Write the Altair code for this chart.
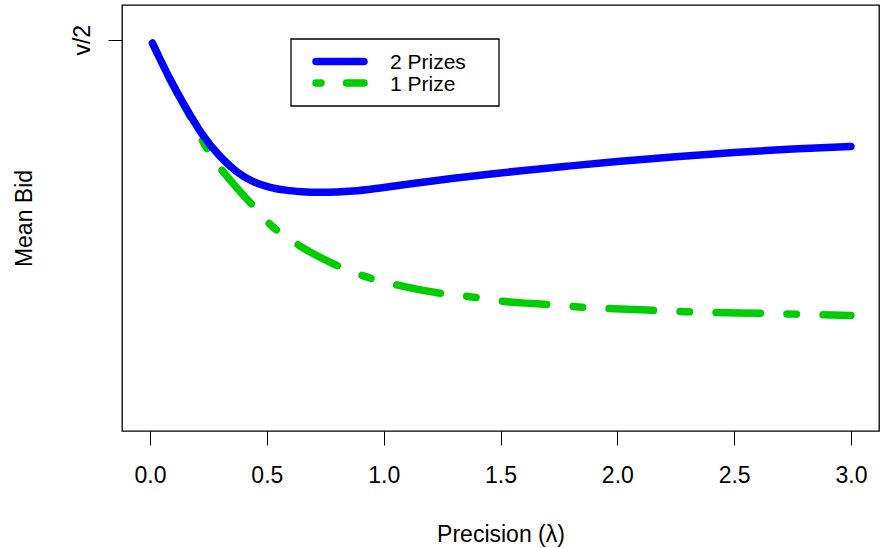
import altair as alt
import pandas as pd

# Mean bid against precision (lambda), in units of the prize value v (v/2 = 0.5)
lam_two = [0.01, 0.08, 0.15, 0.22, 0.30, 0.37, 0.44, 0.51, 0.58, 0.65, 0.72,
           0.80, 0.87, 1.00, 1.15, 1.30, 1.45, 1.60, 1.80, 2.00, 2.25, 2.50,
           2.75, 3.00]
bid_two = [0.4958, 0.4531, 0.4148, 0.3808, 0.3509, 0.3317, 0.3190, 0.3118,
           0.3078, 0.3058, 0.3050, 0.3054, 0.3066, 0.3112, 0.3172, 0.3229,
           0.3282, 0.3330, 0.3388, 0.3443, 0.3505, 0.3559, 0.3603, 0.3637]

lam_one = [0.01, 0.08, 0.167, 0.238, 0.366, 0.43, 0.523, 0.622, 0.793, 0.92,
           1.05, 1.235, 1.363, 1.49, 1.705, 1.833, 2.16, 2.29, 2.63, 3.00]
bid_one = [0.4958, 0.4521, 0.4042, 0.3637, 0.3126, 0.2914, 0.2615, 0.2402,
           0.2125, 0.1976, 0.1870, 0.1764, 0.1720, 0.1665, 0.1614, 0.1585,
           0.1541, 0.1525, 0.1503, 0.1477]

x_ticks = [0.0, 0.5, 1.0, 1.5, 2.0, 2.5, 3.0]
legend_labels = ["2 Prizes", "1 Prize"]

BLUE = "#0000FF"
GREEN = "#00CD00"
FONT = "Liberation Sans"
FS = 23
LEG_FS = 21
LW = 7.5
W, H = 757, 426

two = pd.DataFrame({"lam": lam_two, "bid": bid_two})
one = pd.DataFrame({"lam": lam_one, "bid": bid_one})

x_scale = alt.Scale(domain=[-0.12, 3.12], nice=False, zero=False)
y_scale = alt.Scale(domain=[0, 0.5444], nice=False, zero=False)

x_axis = alt.Axis(
    values=x_ticks, format=".1f", title="Precision (λ)", grid=False,
    domain=False, tickSize=14, tickColor="black", tickWidth=1,
    labelFont=FONT, labelFontSize=FS, labelColor="black",
    labelBaseline="alphabetic", labelPadding=37.7, labelFlush=False,
    titleFont=FONT, titleFontSize=FS, titleFontWeight="normal",
    titleColor="black", titleBaseline="alphabetic", titleX=W / 2, titleY=110,
    titleAlign="center",
)
y_axis = alt.Axis(
    values=[0.5], labelExpr="'v/2'", title="Mean Bid", grid=False,
    domain=False, tickSize=14, tickColor="black", tickWidth=1,
    labelFont=FONT, labelFontSize=FS, labelColor="black", labelAngle=270,
    labelAlign="center", labelBaseline="alphabetic", labelPadding=19,
    titleFont=FONT, titleFontSize=FS, titleFontWeight="normal",
    titleColor="black", titleAngle=270, titleAlign="center",
    titleBaseline="alphabetic", titleX=-90.3, titleY=H / 2,
)

one_prize = alt.Chart(one).mark_line(
    color=GREEN, strokeWidth=LW, strokeCap="round", interpolate="monotone",
    strokeDash=[44.5, 26.5, 9.5, 26.5], strokeDashOffset=16.5,
).encode(
    x=alt.X("lam:Q", scale=x_scale, axis=x_axis),
    y=alt.Y("bid:Q", scale=y_scale, axis=y_axis),
    order=alt.Order("lam:Q", sort="descending"),
)

two_prizes = alt.Chart(two).mark_line(
    color=BLUE, strokeWidth=LW, strokeCap="round", interpolate="monotone",
).encode(
    x=alt.X("lam:Q", scale=x_scale, axis=x_axis),
    y=alt.Y("bid:Q", scale=y_scale, axis=y_axis),
)

# Boxed legend in the upper part of the panel
anchor = pd.DataFrame({"k": [0]})
box = alt.Chart(anchor).mark_rect(
    fill="white", stroke="black", strokeWidth=1.3
).encode(x=alt.value(169), x2=alt.value(377), y=alt.value(34), y2=alt.value(101))

key_two = alt.Chart(anchor).mark_rule(
    color=BLUE, strokeWidth=LW, strokeCap="round"
).encode(x=alt.value(194), x2=alt.value(242), y=alt.value(56.4))

key_one = alt.Chart(anchor).mark_rule(
    color=GREEN, strokeWidth=LW, strokeCap="round", strokeDash=[5, 25.5, 44.5, 26.5]
).encode(x=alt.value(194), x2=alt.value(242), y=alt.value(78))

text_two = alt.Chart(anchor).mark_text(
    align="left", baseline="alphabetic", font=FONT, fontSize=LEG_FS, color="black"
).encode(x=alt.value(268), y=alt.value(64), text=alt.value(legend_labels[0]))

text_one = alt.Chart(anchor).mark_text(
    align="left", baseline="alphabetic", font=FONT, fontSize=LEG_FS, color="black"
).encode(x=alt.value(268), y=alt.value(86.4), text=alt.value(legend_labels[1]))

chart = alt.layer(
    one_prize, two_prizes, box, key_two, key_one, text_two, text_one
).properties(
    width=W, height=H,
    autosize=alt.AutoSizeParams(type="none"),
    padding={"left": 122, "top": 5, "right": 2, "bottom": 117},
    background="white",
).configure_view(stroke="black", strokeWidth=1.3)

chart.save("out.html", embed_options={"renderer": "svg", "actions": False})
